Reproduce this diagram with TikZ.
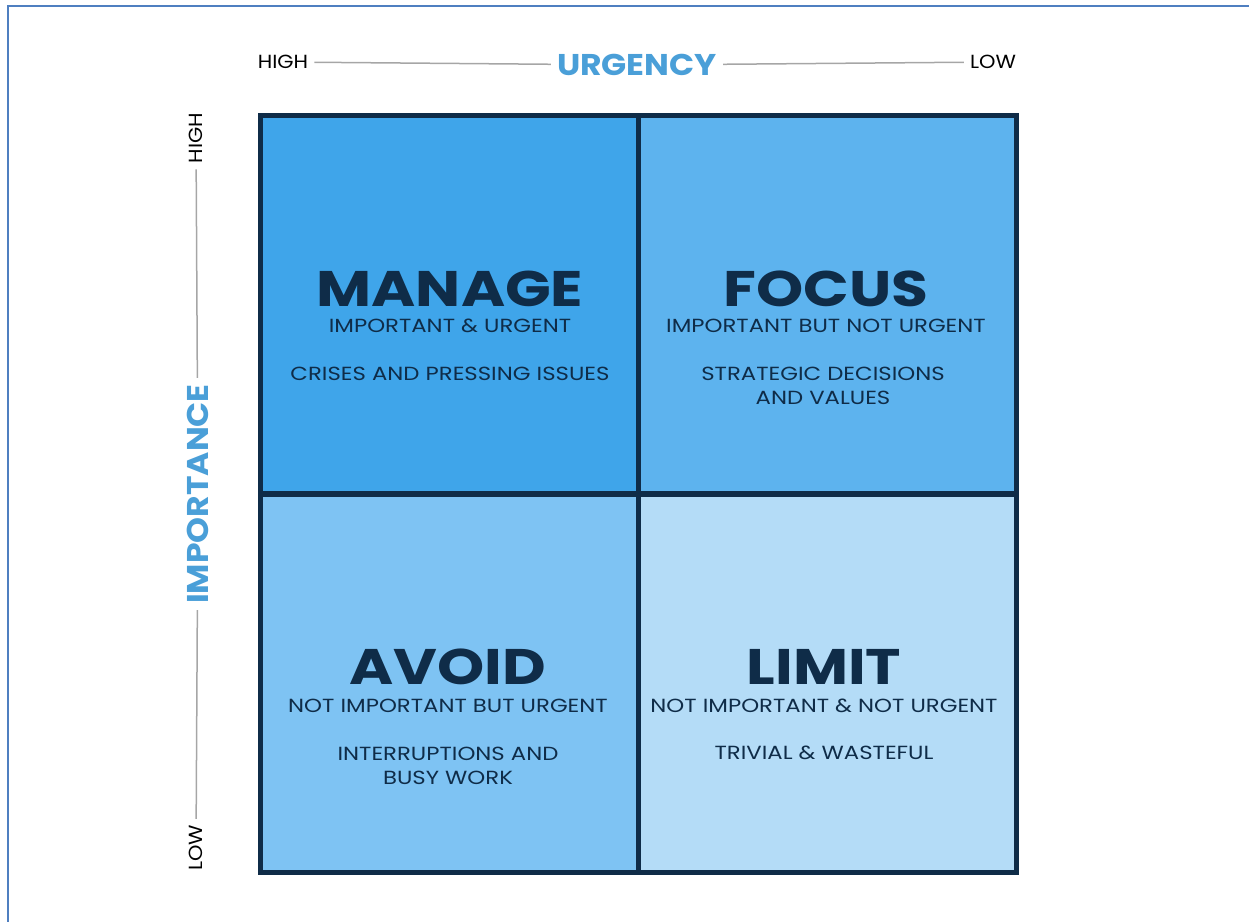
\documentclass[tikz,border=0pt]{standalone}
\usepackage{fontspec}
\setmainfont{Poppins}
\newfontfamily\quadfont[FakeStretch=1.2]{Poppins}
\newfontfamily\axisfont[FakeStretch=1.1]{Poppins}
\usepackage{tikz}

\definecolor{navy}{HTML}{0F2C48}
\definecolor{axisblue}{HTML}{4A9FD8}
\definecolor{framecol}{HTML}{4F7FC0}
\definecolor{qmanage}{HTML}{3FA5EA}
\definecolor{qfocus}{HTML}{5DB3EE}
\definecolor{qavoid}{HTML}{7EC3F3}
\definecolor{qlimit}{HTML}{B4DCF7}

\tikzset{
  quad/.style={draw=navy,line width=5pt,minimum width=378pt,minimum height=378pt,inner sep=0pt},
  qtitle/.style={text=navy,font=\quadfont\fontsize{50}{50}\selectfont\bfseries,inner sep=0pt,
    text height=36pt,text depth=0pt,anchor=base},
  qsub/.style={text=navy,font=\quadfont\fontsize{19}{19}\selectfont,inner sep=0pt,
    text height=14pt,text depth=0pt,anchor=base},
  qdesc/.style={text=navy,font=\quadfont\fontsize{19}{24}\selectfont,inner sep=0pt,align=center},
  axisname/.style={text=axisblue,font=\axisfont\fontsize{30}{30}\selectfont\bfseries,inner sep=6pt},
  axisend/.style={text=black,font=\axisfont\fontsize{19}{19}\selectfont,inner sep=6pt},
  axisline/.style={draw=gray!70,line width=1.5pt}
}

\begin{document}
\begin{tikzpicture}[x=1pt,y=-1pt]
\useasboundingbox (0,0) rectangle (1249,922);
% frame
\draw[framecol,line width=2pt] (1249,6) -- (8,6) -- (8,922);

% quadrants
\node[quad,fill=qmanage] (manage) at (449,304.5) {};
\node[quad,fill=qfocus] (focus) at (827.5,304.5) {};
\node[quad,fill=qavoid] (avoid) at (449,683) {};
\node[quad,fill=qlimit] (limit) at (827.5,683) {};

% texts
\node[qtitle] (manageT) at (450,306) {MANAGE};
\node[qsub] (manageS) at (450,332) {IMPORTANT \& URGENT};
\node[qdesc] (manageD) at (450,374) {CRISES AND PRESSING ISSUES};

\node[qtitle] (focusT) at (826,306) {FOCUS};
\node[qsub] (focusS) at (826,332) {IMPORTANT BUT NOT URGENT};
\node[qdesc] (focusD) at (823,386) {STRATEGIC DECISIONS\\AND VALUES};

\node[qtitle] (avoidT) at (448,684) {AVOID};
\node[qsub] (avoidS) at (448,712) {NOT IMPORTANT BUT URGENT};
\node[qdesc] (avoidD) at (448,766) {INTERRUPTIONS AND\\BUSY WORK};

\node[qtitle] (limitT) at (824,684) {LIMIT};
\node[qsub] (limitS) at (824,712) {NOT IMPORTANT \& NOT URGENT};
\node[qdesc] (limitD) at (824,753) {TRIVIAL \& WASTEFUL};

% urgency axis
\node[axisname] (urg) at (637,65) {URGENCY};
\node[axisend] (uhigh) at (283,62) {HIGH};
\node[axisend] (ulow) at (993,62) {LOW};
\draw[axisline] (uhigh) -- (urg);
\draw[axisline] (urg) -- (ulow);

% importance axis
\node[axisname,rotate=90] (imp) at (198,494) {IMPORTANCE};
\node[axisend,rotate=90] (ihigh) at (196,138) {HIGH};
\node[axisend,rotate=90] (ilow) at (196,848) {LOW};
\draw[axisline] (ihigh) -- (imp);
\draw[axisline] (imp) -- (ilow);

\end{tikzpicture}
\end{document}
